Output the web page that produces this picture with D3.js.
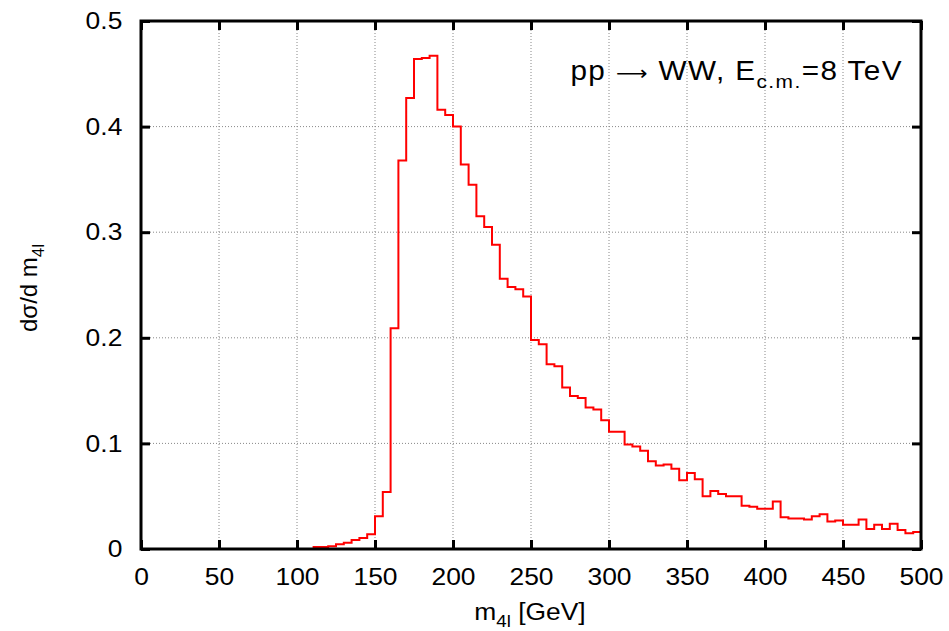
<!DOCTYPE html>
<html>
<head>
<meta charset="utf-8">
<script src="https://cdn.jsdelivr.net/npm/d3@7"></script>
<style>
  body { margin: 0; background: #fff; }
  text { font-family: "Liberation Sans", Arial, sans-serif; fill: #000; }
</style>
</head>
<body>
<svg id="chart" width="949" height="631"></svg>
<script>
// Histogram bins: lower edge of each 5 GeV bin (GeV)
var binEdges = [110, 115, 120, 125, 130, 135, 140, 145, 150, 155,
  160, 165, 170, 175, 180, 185, 190, 195, 200, 205,
  210, 215, 220, 225, 230, 235, 240, 245, 250, 255,
  260, 265, 270, 275, 280, 285, 290, 295, 300, 305,
  310, 315, 320, 325, 330, 335, 340, 345, 350, 355,
  360, 365, 370, 375, 380, 385, 390, 395, 400, 405,
  410, 415, 420, 425, 430, 435, 440, 445, 450, 455,
  460, 465, 470, 475, 480, 485, 490, 495];
var binUpper = 500; // upper edge of the last bin

// dsigma/dm4l per bin
var values = [0.002, 0.002, 0.0025, 0.0045, 0.006, 0.0085, 0.0104, 0.014, 0.031, 0.054,
  0.209, 0.368, 0.427, 0.464, 0.465, 0.467, 0.416, 0.411, 0.400, 0.364,
  0.345, 0.315, 0.305, 0.288, 0.256, 0.248, 0.246, 0.239, 0.198, 0.194,
  0.175, 0.173, 0.153, 0.145, 0.143, 0.134, 0.132, 0.122, 0.111, 0.111,
  0.099, 0.097, 0.093, 0.083, 0.079, 0.080, 0.076, 0.065, 0.072, 0.066,
  0.050, 0.055, 0.052, 0.050, 0.050, 0.041, 0.040, 0.038, 0.038, 0.045,
  0.030, 0.029, 0.029, 0.028, 0.031, 0.033, 0.026, 0.027, 0.023, 0.023,
  0.028, 0.019, 0.023, 0.019, 0.024, 0.018, 0.015, 0.016];

// Tick values
var xTicks = [0, 50, 100, 150, 200, 250, 300, 350, 400, 450, 500];
var yTicks = [0, 0.1, 0.2, 0.3, 0.4, 0.5];

// Plot frame (note: "top" is reserved on window, so use plotTop)
var plotLeft = 141, plotTop = 21, w = 780, h = 528;
var stretch = 1.1; // the original's lettering is a bit wider than Liberation Sans

var svg = d3.select("#chart");

var x = d3.scaleLinear().domain([0, 500]).range([plotLeft, plotLeft + w]);
var y = d3.scaleLinear().domain([0, 0.5]).range([plotTop + h, plotTop]);

// Dotted grid
var grid = svg.append("g");
grid.selectAll("line.gx")
    .data(xTicks.slice(1, -1))
    .enter().append("line")
    .attr("x1", function (d) { return x(d); })
    .attr("x2", function (d) { return x(d); })
    .attr("y1", plotTop)
    .attr("y2", plotTop + h)
    .attr("stroke", "#888")
    .attr("stroke-width", 1)
    .attr("stroke-dasharray", "1,2");
grid.selectAll("line.gy")
    .data(yTicks.slice(1, -1))
    .enter().append("line")
    .attr("x1", plotLeft)
    .attr("x2", plotLeft + w)
    .attr("y1", function (d) { return y(d); })
    .attr("y2", function (d) { return y(d); })
    .attr("stroke", "#888")
    .attr("stroke-width", 1)
    .attr("stroke-dasharray", "1,2");

// Histogram as a step line
var pts = binEdges.map(function (e, i) { return [e, values[i]]; });
pts.push([binUpper, values[values.length - 1]]);

var line = d3.line()
    .x(function (d) { return x(d[0]); })
    .y(function (d) { return y(d[1]); })
    .curve(d3.curveStepAfter);

svg.append("path")
    .datum(pts)
    .attr("d", line)
    .attr("fill", "none")
    .attr("stroke", "#ff0000")
    .attr("stroke-width", 2);

// Axes: ticks inward on all four sides, labels bottom and left
var tickLen = 9;
var bottomAxis = d3.axisBottom(x).tickValues(xTicks).tickSize(-tickLen).tickPadding(19)
    .tickFormat(d3.format("d"));
var leftAxis = d3.axisLeft(y).tickValues(yTicks).tickSize(-tickLen).tickPadding(17)
    .tickFormat(function (d) { return d === 0 ? "0" : d3.format(".1f")(d); });
var topAxis = d3.axisTop(x).tickValues(xTicks).tickSize(-tickLen).tickFormat("");
var rightAxis = d3.axisRight(y).tickValues(yTicks).tickSize(-tickLen).tickFormat("");

function styleAxis(g) {
    g.select(".domain").remove();
    g.selectAll(".tick line").attr("stroke", "#000").attr("stroke-width", 3);
    g.selectAll(".tick text")
        .style("font-size", "24px")
        .attr("fill", "#000")
        .attr("transform", "scale(" + stretch + ",1)");
}

svg.append("g").attr("transform", "translate(0," + (plotTop + h) + ")").call(bottomAxis).call(styleAxis);
svg.append("g").attr("transform", "translate(" + plotLeft + ",0)").call(leftAxis).call(styleAxis);
svg.append("g").attr("transform", "translate(0," + plotTop + ")").call(topAxis).call(styleAxis);
svg.append("g").attr("transform", "translate(" + (plotLeft + w) + ",0)").call(rightAxis).call(styleAxis);

// Frame
svg.append("rect")
    .attr("x", plotLeft)
    .attr("y", plotTop)
    .attr("width", w)
    .attr("height", h)
    .attr("fill", "none")
    .attr("stroke", "#000")
    .attr("stroke-width", 3);

// Axis titles
var xt = svg.append("g")
    .attr("transform", "translate(530,620) scale(" + stretch + ",1)")
    .append("text")
    .attr("text-anchor", "middle")
    .style("font-size", "24px");
xt.append("tspan").text("m");
xt.append("tspan").attr("dy", 7).style("font-size", "17px").text("4l");
xt.append("tspan").attr("dy", -7).text(" [GeV]");

var yt = svg.append("text")
    .attr("transform", "translate(37,288) rotate(-90)")
    .attr("text-anchor", "middle")
    .style("font-size", "24px");
yt.append("tspan").text("d\u03c3/d m");
yt.append("tspan").attr("dy", 7).style("font-size", "17px").text("4l");

// Process label
var lab = svg.append("g")
    .attr("transform", "translate(903,80) scale(" + stretch + ",1)")
    .append("text")
    .attr("text-anchor", "end")
    .style("font-size", "27px")
    .style("letter-spacing", "1.3px");
lab.append("tspan").text("pp ");
lab.append("tspan").style("font-family", "DejaVu Sans").style("font-size", "20px").text("\u27f6");
lab.append("tspan").text(" WW, E");
lab.append("tspan").attr("dy", 8).style("font-size", "19px").text("c.m.");
lab.append("tspan").attr("dy", -8).text("=8 TeV");
</script>
</body>
</html>
